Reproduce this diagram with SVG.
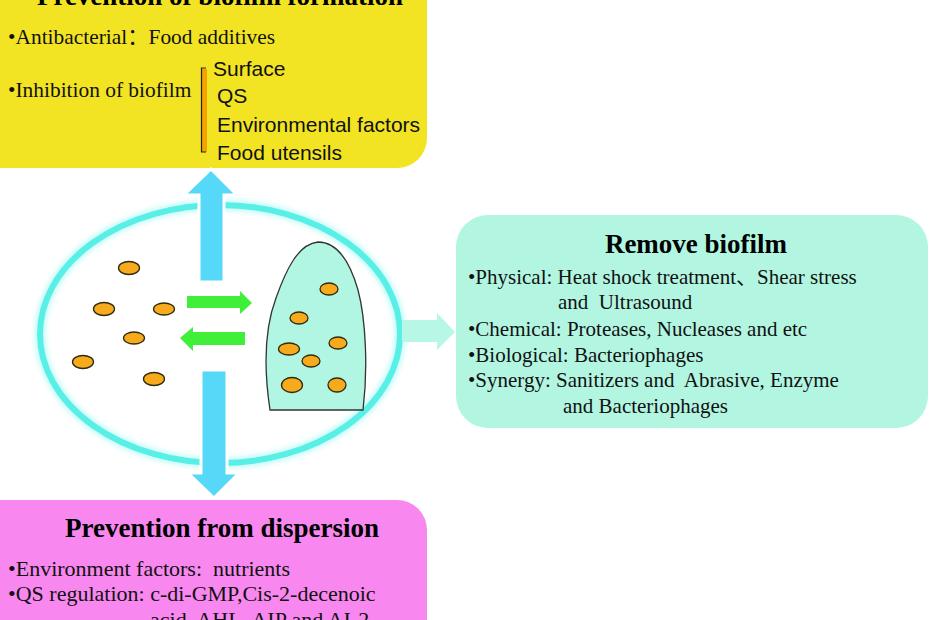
<svg xmlns="http://www.w3.org/2000/svg" width="930" height="620" viewBox="0 0 930 620">
<defs>
<style>
.title{font-family:"Liberation Serif","Times New Roman",serif;font-weight:bold;font-size:27px;fill:#000;text-anchor:middle}
.body{font-family:"Liberation Serif","Noto Sans CJK SC","Times New Roman",serif;font-size:21px;fill:#111;white-space:pre}
.mid{font-size:21.4px}
.big{font-size:22px}
.sans{font-family:"Liberation Sans",Arial,sans-serif;font-size:21px;fill:#111}
.dot{fill:#f7aa1c;stroke:#2e2a10;stroke-width:1.3}
.blue{fill:#56d8f8;stroke:#ffffff;stroke-width:3;stroke-linejoin:miter}
.green{fill:#40ef3a}
.mint{fill:#b6f7e6}
</style>
<filter id="glow" x="-20%" y="-20%" width="140%" height="140%">
<feGaussianBlur stdDeviation="2.5"/>
</filter>
</defs>
<rect width="930" height="620" fill="#ffffff"/>

<g id="node-prevention-formation">
<rect x="-40" y="-40" width="467" height="208" rx="30" fill="#f2e422"/>
<text class="title" x="220" y="5">Prevention of biofilm formation</text>
<text class="body mid" x="8" y="44">•Antibacterial：Food additives</text>
<text class="body mid" x="8" y="97">•Inhibition of biofilm</text>
<rect x="202" y="69" width="5" height="83" fill="#f5a300"/>
<path d="M206,68 H201.5 V152 H206" fill="none" stroke="#222" stroke-width="1.2"/>
<text class="sans" x="213" y="76">Surface</text>
<text class="sans" x="217" y="103">QS</text>
<text class="sans" x="217" y="132">Environmental factors</text>
<text class="sans" x="217" y="160">Food utensils</text>
</g>

<g id="node-biofilm">
<ellipse cx="220" cy="334" rx="180" ry="129" fill="none" stroke="#c4fbf8" stroke-width="11" filter="url(#glow)"/>
<ellipse cx="220" cy="334" rx="180" ry="129" fill="none" stroke="#58efe6" stroke-width="6"/>
<ellipse class="dot" cx="129" cy="268" rx="10.5" ry="6.5"/>
<ellipse class="dot" cx="104" cy="309" rx="10.5" ry="6.5"/>
<ellipse class="dot" cx="164" cy="309" rx="10.5" ry="6"/>
<ellipse class="dot" cx="134" cy="338" rx="10.5" ry="6"/>
<ellipse class="dot" cx="83" cy="362" rx="10.5" ry="6.5"/>
<ellipse class="dot" cx="154" cy="379" rx="10.5" ry="6.5"/>
<path d="M270,410 C264,370 264,330 276,298 C286,270 298,244 318,242 C338,242 350,262 358,290 C366,320 368,370 363,410 Z" fill="#b0f6e2" stroke="#333" stroke-width="1.3"/>
<ellipse class="dot" cx="329" cy="289" rx="9" ry="6"/>
<ellipse class="dot" cx="299" cy="318" rx="9" ry="6"/>
<ellipse class="dot" cx="338" cy="343" rx="9" ry="6"/>
<ellipse class="dot" cx="289" cy="349" rx="10.5" ry="6"/>
<ellipse class="dot" cx="311" cy="361" rx="9" ry="6"/>
<ellipse class="dot" cx="292" cy="385" rx="10.5" ry="7.5"/>
<ellipse class="dot" cx="337" cy="385" rx="9" ry="7"/>
</g>

<g id="node-remove">
<rect x="456" y="215" width="472" height="213" rx="32" fill="#b2f6e2"/>
<text class="title" x="696" y="253">Remove biofilm</text>
<text class="body" x="468" y="284">•Physical: Heat shock treatment、Shear stress</text>
<text class="body" x="558" y="309">and  Ultrasound</text>
<text class="body" x="468" y="336">•Chemical: Proteases, Nucleases and etc</text>
<text class="body" x="468" y="362">•Biological: Bacteriophages</text>
<text class="body" x="468" y="387">•Synergy: Sanitizers and  Abrasive, Enzyme</text>
<text class="body" x="563" y="413">and Bacteriophages</text>
</g>

<g id="node-dispersion">
<rect x="-40" y="500" width="467" height="200" rx="30" fill="#f888f0"/>
<text class="title" x="222" y="537">Prevention from dispersion</text>
<text class="body big" x="8" y="576">•Environment factors:  nutrients</text>
<text class="body big" x="8" y="601">•QS regulation: c-di-GMP,Cis-2-decenoic</text>
<text class="body big" x="150" y="627">acid, AHL, AIP and AI-2</text>
</g>

<g id="connectors">
<polygon class="blue" points="199,282 199,195 184,195 211,169 237,195 224,195 224,282"/>
<polygon class="blue" points="201,370 227,370 227,473 239,473 214,498 188,473 201,473"/>
<polygon class="green" points="187,296 240,296 240,291 252,303 240,314 240,308 187,308"/>
<polygon class="green" points="245,332 193,332 193,327 180,338 193,351 193,345 245,345"/>
<polygon class="mint" points="402,320 437,320 437,313 455,332 437,350 437,342 402,342"/>
</g>
</svg>
